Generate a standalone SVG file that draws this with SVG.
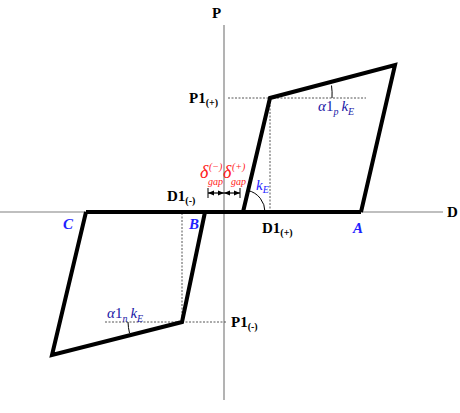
<svg xmlns="http://www.w3.org/2000/svg" width="460" height="413" viewBox="0 0 460 413">
<defs>
<marker id="ah" viewBox="0 0 10 10" refX="10" refY="5" markerWidth="6" markerHeight="6" orient="auto-start-reverse" markerUnits="userSpaceOnUse">
<path d="M0,1 L10,5 L0,9 z" fill="#000"/>
</marker>
<style>
.ax{stroke:#808080;stroke-width:1.2;fill:none}
.th{stroke:#000;stroke-width:4;fill:none;stroke-linejoin:miter;stroke-linecap:butt}
.dt{stroke:#555;stroke-width:1;stroke-dasharray:2,1.5;fill:none}
.arc{stroke:#000;stroke-width:1;fill:none}
.lb{font-family:"Liberation Serif",serif;font-weight:bold;font-size:15px;fill:#000}
.sb{font-size:10px}
.up{font-style:normal}
.bl{font-family:"Liberation Serif",serif;font-style:italic;font-size:15px;fill:#1a1aa6}
.pt{font-family:"Liberation Serif",serif;font-style:italic;font-weight:bold;font-size:15px;fill:#1f1fff}
.rd{font-family:"Liberation Serif",serif;font-style:italic;font-size:18px;fill:#ff1a1a}
.rs{font-family:"Liberation Serif",serif;font-style:italic;font-size:10px;fill:#ff1a1a}
</style>
</defs>
<rect width="460" height="413" fill="#fff"/>
<g id="axes">
<line class="ax" x1="0" y1="212" x2="443" y2="212"/>
<line class="ax" x1="224" y1="25" x2="224" y2="400"/>
<text class="lb" x="212" y="18">P</text>
<text class="lb" x="447" y="217">D</text>
</g>
<g id="guides">
<line class="dt" x1="228" y1="98" x2="366" y2="98"/>
<line class="dt" x1="270" y1="98" x2="270" y2="211"/>
<line class="dt" x1="105" y1="322" x2="226" y2="322"/>
<line class="dt" x1="182" y1="213" x2="182" y2="322"/>
<path class="arc" d="M331.5,85.5 A62,62 0 0 1 332,98"/>
<path class="arc" d="M128,322 A54,54 0 0 0 129.5,333"/>
<path class="arc" d="M248,190.5 A22,22 0 0 1 265,212"/>
</g>
<g id="connectors">
<polyline class="th" points="86,212 361,212"/>
<polyline class="th" points="243,212 270,98 395,65 361,212"/>
<polyline class="th" points="86,212 52,355 182,322 205,212"/>
<line x1="208" y1="188" x2="208" y2="198" stroke="#000" stroke-width="1"/>
<line x1="240" y1="188" x2="240" y2="198" stroke="#000" stroke-width="1"/>
<line x1="208" y1="193" x2="224" y2="193" stroke="#000" stroke-width="1.2" marker-start="url(#ah)" marker-end="url(#ah)"/>
<line x1="224" y1="193" x2="240" y2="193" stroke="#000" stroke-width="1.2" marker-start="url(#ah)" marker-end="url(#ah)"/>
</g>
<g id="labels">
<text class="lb" x="189" y="103">P1<tspan class="sb" dy="3">(+)</tspan></text>
<text class="bl" x="318" y="111">α<tspan class="up">1</tspan><tspan class="sb" dy="4">p</tspan><tspan dy="-4" dx="3">k</tspan><tspan class="sb" dy="4">E</tspan></text>
<text class="lb" x="167" y="201">D1<tspan class="sb" dy="3">(-)</tspan></text>
<text class="rd" x="200" y="178">δ</text>
<text class="rs" x="209" y="170">(−)</text>
<text class="rs" x="208" y="185">gap</text>
<text class="rd" x="223" y="178">δ</text>
<text class="rs" x="232" y="170">(+)</text>
<text class="rs" x="231" y="185">gap</text>
<text class="bl" x="256" y="190" style="fill:#1a1aff">k<tspan class="sb" dy="3">E</tspan></text>
<text class="lb" x="262" y="233">D1<tspan class="sb" dy="3">(+)</tspan></text>
<text class="lb" x="231" y="327">P1<tspan class="sb" dy="3">(-)</tspan></text>
<text class="bl" x="107" y="318">α<tspan class="up">1</tspan><tspan class="sb" dy="4">n</tspan><tspan dy="-4" dx="3">k</tspan><tspan class="sb" dy="4">E</tspan></text>
</g>
<g id="nodeA"><text class="pt" x="353" y="233">A</text></g>
<g id="nodeB"><text class="pt" x="189" y="229">B</text></g>
<g id="nodeC"><text class="pt" x="63" y="229">C</text></g>
</svg>
